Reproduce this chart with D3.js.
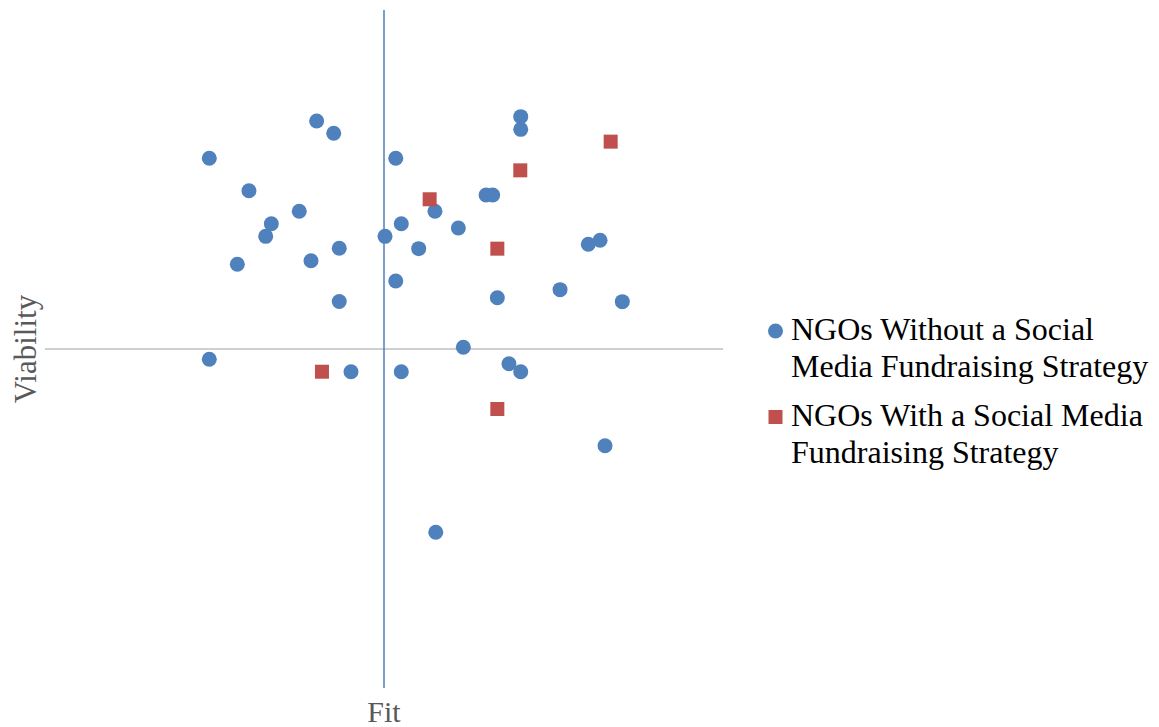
<!DOCTYPE html>
<html>
<head>
<meta charset="utf-8">
<script src="https://cdn.jsdelivr.net/npm/d3@7"></script>
<style>
  html, body { margin: 0; padding: 0; background: #fff; }
  svg { display: block; }
</style>
</head>
<body>
<svg id="chart" width="1159" height="727"></svg>
<script>
// NGOs without a social media fundraising strategy: [fit, viability]
const withoutFit = [-1.546, -1.195, -0.997, -1.047, -1.298, -0.750, -0.596, -0.445, -0.646, -0.396, -0.396,
  0.104, 0.009, 0.153, 0.307, 0.104, 0.451, 0.658, 0.903, 0.962, 1.210, 1.210, 1.808, 1.912, 1.558, 1.003, 2.109,
  -1.546, -0.292, 0.153, 0.702, 1.106, 1.210, 1.956, 0.458];
const withoutViability = [1.688, 1.401, 1.109, 0.997, 0.750, 1.219, 2.018, 1.909, 0.781, 0.891, 0.420,
  1.688, 0.997, 1.109, 0.888, 0.602, 1.219, 1.071, 1.363, 1.363, 2.056, 1.944, 0.927, 0.962, 0.525, 0.454, 0.419,
  -0.091, -0.201, -0.201, 0.015, -0.130, -0.201, -0.856, -1.622];
// NGOs with a social media fundraising strategy
const withFit = [2.006, 1.206, 0.404, 1.003, -0.549, 1.003];
const withViability = [1.835, 1.581, 1.325, 0.888, -0.201, -0.531];

const xDomain = [-3, 3];
const yDomain = [-3, 3];
const xLabel = "Fit";
const yLabel = "Viability";
const seriesNames = ["NGOs Without a Social Media Fundraising Strategy", "NGOs With a Social Media Fundraising Strategy"];
const legendLines = [["NGOs Without a Social", "Media Fundraising Strategy"], ["NGOs With a Social Media", "Fundraising Strategy"]];

const blue = "#4F81BD", red = "#C0504D";
const svg = d3.select("#chart");
const x = d3.scaleLinear().domain(xDomain).range([45, 723]);
const y = d3.scaleLinear().domain(yDomain).range([688, 10]);

// horizontal axis line (at viability 0)
svg.append("line")
  .attr("x1", x(xDomain[0])).attr("x2", x(xDomain[1]))
  .attr("y1", y(0)).attr("y2", y(0))
  .attr("stroke", "#BFBFBF").attr("stroke-width", 1.5);
// vertical axis line (at fit 0)
svg.append("line")
  .attr("x1", x(0)).attr("x2", x(0))
  .attr("y1", y(yDomain[1])).attr("y2", y(yDomain[0]))
  .attr("stroke", blue).attr("stroke-width", 1.5);

const font = "'Liberation Serif', 'Times New Roman', serif";

svg.append("text")
  .attr("x", x(0)).attr("y", 722)
  .attr("text-anchor", "middle")
  .attr("font-family", font).attr("font-size", 30)
  .attr("fill", "#595959").text(xLabel);
svg.append("text")
  .attr("transform", `translate(36,${y(0)}) rotate(-90)`)
  .attr("text-anchor", "middle")
  .attr("font-family", font).attr("font-size", 31)
  .attr("fill", "#595959").text(yLabel);

const withoutData = withoutFit.map((f, i) => ({ f, v: withoutViability[i] }));
const withData = withFit.map((f, i) => ({ f, v: withViability[i] }));

svg.append("g").selectAll("circle").data(withoutData).join("circle")
  .attr("cx", d => x(d.f)).attr("cy", d => y(d.v)).attr("r", 7.5)
  .attr("fill", blue);

const sq = 14;
svg.append("g").selectAll("rect").data(withData).join("rect")
  .attr("x", d => x(d.f) - sq / 2).attr("y", d => y(d.v) - sq / 2)
  .attr("width", sq).attr("height", sq)
  .attr("fill", red);

// legend
const lg = svg.append("g").attr("font-family", font).attr("font-size", 32).attr("fill", "#000");
lg.append("circle").attr("cx", 775.5).attr("cy", 331).attr("r", 7.5).attr("fill", blue);
lg.append("rect").attr("x", 775.5 - 7).attr("y", 417 - 7).attr("width", 14).attr("height", 14).attr("fill", red);
const baselines = [[340, 377], [426, 463]];
legendLines.forEach((lines, i) => {
  lines.forEach((t, j) => {
    lg.append("text").attr("x", 791).attr("y", baselines[i][j]).text(t);
  });
});
</script>
</body>
</html>
